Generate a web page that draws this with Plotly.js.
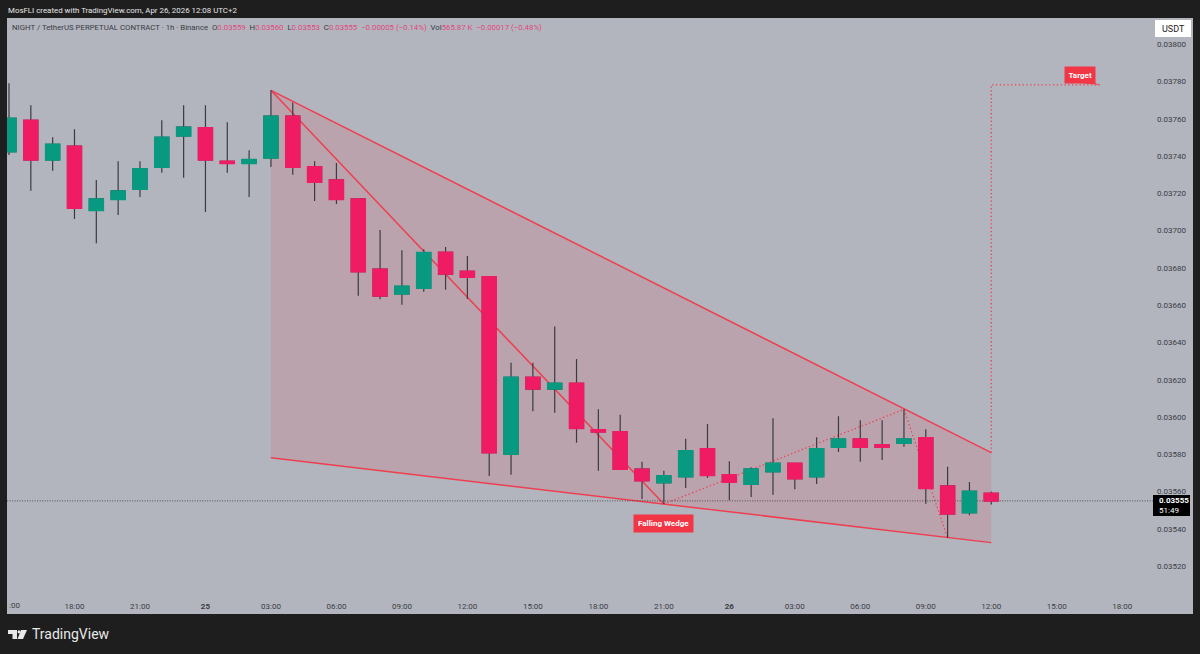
<!DOCTYPE html>
<html><head><meta charset="utf-8"><script src="https://cdn.plot.ly/plotly-3.0.1.min.js"></script>
<style>html,body{margin:0;padding:0;background:#1e1e1e}#c{width:1200px;height:654px}</style></head><body><div id="c"></div>
<script>
const times=["2026-04-24 15:00","2026-04-24 16:00","2026-04-24 17:00","2026-04-24 18:00","2026-04-24 19:00","2026-04-24 20:00","2026-04-24 21:00","2026-04-24 22:00","2026-04-24 23:00","2026-04-25 00:00","2026-04-25 01:00","2026-04-25 02:00","2026-04-25 03:00","2026-04-25 04:00","2026-04-25 05:00","2026-04-25 06:00","2026-04-25 07:00","2026-04-25 08:00","2026-04-25 09:00","2026-04-25 10:00","2026-04-25 11:00","2026-04-25 12:00","2026-04-25 13:00","2026-04-25 14:00","2026-04-25 15:00","2026-04-25 16:00","2026-04-25 17:00","2026-04-25 18:00","2026-04-25 19:00","2026-04-25 20:00","2026-04-25 21:00","2026-04-25 22:00","2026-04-25 23:00","2026-04-26 00:00","2026-04-26 01:00","2026-04-26 02:00","2026-04-26 03:00","2026-04-26 04:00","2026-04-26 05:00","2026-04-26 06:00","2026-04-26 07:00","2026-04-26 08:00","2026-04-26 09:00","2026-04-26 10:00","2026-04-26 11:00","2026-04-26 12:00"];
const opens=[.037424,.037592,.037379,.037453,.037109,.037168,.037222,.03734,.037508,.037552,.037372,.037361,.03739,.037614,.037342,.037272,.03717,.036793,.03666,.036691,.036884,.036782,.036753,.0358,.036213,.03615,.036181,.035932,.03592,.03572,.035648,.03568,.03583,.03569,.035639,.035707,.035752,.03568,.035838,.035882,.035851,.035859,.035889,.03563,.035487,.03559];
const highs=[.037791,.037673,.037501,.037544,.037272,.037372,.037372,.037592,.037673,.037673,.037581,.037431,.037753,.037687,.037372,.037363,.03717,.037004,.036895,.0369,.036912,.036864,.036753,.036291,.036291,.036485,.036311,.036041,.036012,.03576,.035712,.035884,.035963,.035762,.03573,.035993,.035752,.035891,.036004,.035982,.035982,.036041,.035934,.035733,.035651,.0356];
const lows=[.037406,.037214,.037322,.037063,.036932,.037084,.037181,.037311,.037284,.0371,.037311,.037181,.037342,.0373,.037159,.037143,.036651,.036632,.036603,.036672,.036683,.036633,.035684,.03569,.036031,.036023,.035862,.035712,.03572,.03556,.035533,.035619,.035673,.035553,.035571,.035583,.035612,.035641,.035812,.03576,.035769,.035841,.035535,.035352,.035473,.03553];
const closes=[.037603,.037379,.037463,.03712,.03717,.037213,.037332,.037501,.037555,.037379,.037361,.037381,.037614,.03734,.03726,.037168,.03678,.036649,.036701,.036882,.036767,.03675,.035809,.036213,.03615,.036181,.035939,.03592,.03572,.035658,.035684,.035819,.035687,.03565,.035721,.035752,.035669,.03583,.035882,.035838,.035838,.035882,.035617,.03548,.035601,.03555];

const wedgeX=["2026-04-25 03:00","2026-04-26 12:00","2026-04-26 12:00","2026-04-25 03:00"];
const wedgeY=[.037753,.035809,.035326,.035781];
const legX=["2026-04-25 03:00","2026-04-25 21:00"];
const legY=[.037753,.035533];
const dotX=["2026-04-25 21:00","2026-04-26 08:00","2026-04-26 10:00"];
const dotY=[.035533,.036041,.035352];
const targetX=["2026-04-26 12:00","2026-04-26 12:00","2026-04-26 17:00"];
const targetY=[.035809,.037782,.037782];
const tailX=["2026-04-26 15:50","2026-04-26 16:40","2026-04-26 17:00"];
const tailY=[.037795,.037795,.037782];
const lastPrice=.03555;
const priceLineX=["2026-04-24 14:00","2026-04-26 19:24"];
const priceTicks=[.0352,.0354,.0356,.0358,.036,.0362,.0364,.0366,.0368,.037,.0372,.0374,.0376,.0378,.038];
const timeTicks=["2026-04-24 18:00","2026-04-24 21:00","2026-04-25 00:00","2026-04-25 03:00","2026-04-25 06:00","2026-04-25 09:00","2026-04-25 12:00","2026-04-25 15:00","2026-04-25 18:00","2026-04-25 21:00","2026-04-26 00:00","2026-04-26 03:00","2026-04-26 06:00","2026-04-26 09:00","2026-04-26 12:00","2026-04-26 15:00","2026-04-26 18:00"];
const timeLabels=["18:00","21:00","<b>25</b>","03:00","06:00","09:00","12:00","15:00","18:00","21:00","<b>26</b>","03:00","06:00","09:00","12:00","15:00","18:00"];

const GREEN='#089a80',RED='#ef1c63',WICK='#3b3b44',LINE='#ee3f50',FONT='Roboto, sans-serif',LBL='#f23645',TXT='#3a3c44';
const FS=8;
const px=p=>(p-7)/1186, py=p=>(614-p)/596;
const u=s=>s.replace(' ','_');
const path=(xs,ys,close)=>xs.map((x,i)=>(i?'L':'M')+u(x)+','+ys[i]).join(' ')+(close?' Z':'');
const lineShape=(xs,ys,w,dash)=>({type:'path',xref:'x',yref:'y',layer:'below',path:path(xs,ys),line:{color:LINE,width:w,dash:dash||'solid'}});
const box=(x0,y0,x1,y1,c)=>({type:'rect',xref:'paper',yref:'paper',layer:'above',x0:px(x0),x1:px(x1),y0:py(y1),y1:py(y0),fillcolor:c,line:{width:0}});

const traces=[
 {type:'candlestick',x:times,open:opens,high:highs,low:lows,close:closes,whiskerwidth:0,
  increasing:{line:{color:WICK,width:1.2},fillcolor:WICK},decreasing:{line:{color:WICK,width:1.2},fillcolor:WICK},hoverinfo:'skip',showlegend:false},
 {type:'candlestick',x:times,open:opens,close:closes,
  high:opens.map((o,i)=>Math.max(o,closes[i])),low:opens.map((o,i)=>Math.min(o,closes[i])),whiskerwidth:0,
  increasing:{line:{color:GREEN,width:1.6},fillcolor:GREEN},decreasing:{line:{color:RED,width:1.6},fillcolor:RED},showlegend:false}
];
const pink='#e0487f';
const vals=(s)=>`<span style="color:${pink}">${s}</span>`;
const hdr=`NIGHT / TetherUS PERPETUAL CONTRACT · 1h · Binance  O${vals('0.03559')}  H${vals('0.03560')}  L${vals('0.03553')}  C${vals('0.03555')}  ${vals('−0.00005 (−0.14%)')}  Vol${vals('565.87 K')}  ${vals('−0.00017 (−0.48%)')}`;
const paperNote=(x,y,text,o)=>Object.assign({xref:'paper',yref:'paper',x:px(x),y:py(y),text,showarrow:false,xanchor:'left',yanchor:'middle',font:{family:FONT,size:FS,color:TXT}},o||{});

const annotations=[
 paperNote(6,10,'MosFLI created with TradingView.com, Apr 26, 2026 12:08 UTC+2',{font:{family:FONT,size:7.9,color:'#e6e6e6'}}),
 paperNote(10,27,hdr.replace(/  /g,'&nbsp;&nbsp;'),{font:{family:FONT,size:7.8,color:TXT}}),
 paperNote(7,605,':00'),
 paperNote(30,634,'TradingView',{font:{family:FONT,size:14,color:'#e8e8e8'}}),
 {xref:'x',yref:'y',x:"2026-04-25 21:00",y:.035426,text:'<b>Falling Wedge</b>',showarrow:false,bgcolor:LBL,borderpad:4,font:{family:FONT,size:8,color:'#fff'}},
 {xref:'x',yref:'y',x:"2026-04-26 16:04",y:.037837,text:'<b>Target</b>',showarrow:false,bgcolor:LBL,borderpad:3.5,font:{family:FONT,size:8,color:'#fff'}},
 paperNote(1173,28.5,'USDT',{xanchor:'center',font:{family:FONT,size:9,color:'#222'}}),
 paperNote(1157,505.5,'<b>0.03555</b><br>51:49',{align:'left',font:{family:FONT,size:FS,color:'#fff'}})
];

const logo=[
 {type:'path',xref:'paper',yref:'paper',path:`M${px(8)},${py(630)} L${px(17)},${py(630)} L${px(17)},${py(639)} L${px(12.5)},${py(639)} L${px(12.5)},${py(634)} L${px(8)},${py(634)} Z`,fillcolor:'#e8e8e8',line:{width:0},layer:'above'},
 {type:'circle',xref:'paper',yref:'paper',x0:px(17.5),x1:px(20.5),y0:py(633.5),y1:py(630.2),fillcolor:'#e8e8e8',line:{width:0},layer:'above'},
 {type:'path',xref:'paper',yref:'paper',path:`M${px(21)},${py(630)} L${px(27)},${py(630)} L${px(23)},${py(639)} L${px(17.5)},${py(639)} Z`,fillcolor:'#e8e8e8',line:{width:0},layer:'above'}
];

const shapes=[
 {type:'path',xref:'x',yref:'y',layer:'below',path:path(wedgeX,wedgeY,true),fillcolor:'rgba(242,54,69,0.14)',line:{width:0}},
 lineShape(wedgeX.slice(0,2),wedgeY.slice(0,2),1.5),
 lineShape(wedgeX.slice(2),wedgeY.slice(2),1.5),
 lineShape(legX,legY,1.5),
 lineShape(dotX,dotY,1.3,'1.3px,2.5px'),
 lineShape(targetX,targetY,1.3,'1.3px,2.5px'),
 {type:'path',xref:'x',yref:'y',layer:'below',path:path(tailX,tailY,true),fillcolor:LBL,line:{width:0}},
 {type:'line',xref:'x',yref:'y',layer:'below',x0:priceLineX[0],x1:priceLineX[1],y0:lastPrice,y1:lastPrice,line:{color:'#333',width:0.8,dash:'1px,1.5px'}},
 box(1155,20,1191,37,'#ffffff'),
 box(1153,495,1190,516,'#000000')
].concat(logo);

const layout={
 width:1200,height:654,margin:{l:7,r:7,t:18,b:40},paper_bgcolor:'#1e1e1e',plot_bgcolor:'#b2b5be',
 showlegend:false,boxmode:'overlay',boxgap:0.36,boxgroupgap:0,font:{family:FONT,size:FS,color:TXT},
 xaxis:{type:'date',range:["2026-04-24 14:54:30","2026-04-26 21:14:30"],rangeslider:{visible:false},showgrid:false,zeroline:false,showline:false,
   tickmode:'array',tickvals:timeTicks,ticktext:timeLabels,ticks:'',ticklabelposition:'inside',tickfont:{family:FONT,size:FS,color:TXT}},
 yaxis:{range:[.034943,.038141],showgrid:false,zeroline:false,showline:false,side:'right',ticklabelstandoff:4,
   tickmode:'array',tickvals:priceTicks,ticktext:priceTicks.map(v=>v.toFixed(5)),ticks:'',ticklabelposition:'inside',tickfont:{family:FONT,size:FS,color:TXT}},
 shapes,annotations
};
Plotly.newPlot('c',traces,layout,{displayModeBar:false,staticPlot:true});
</script></body></html>
